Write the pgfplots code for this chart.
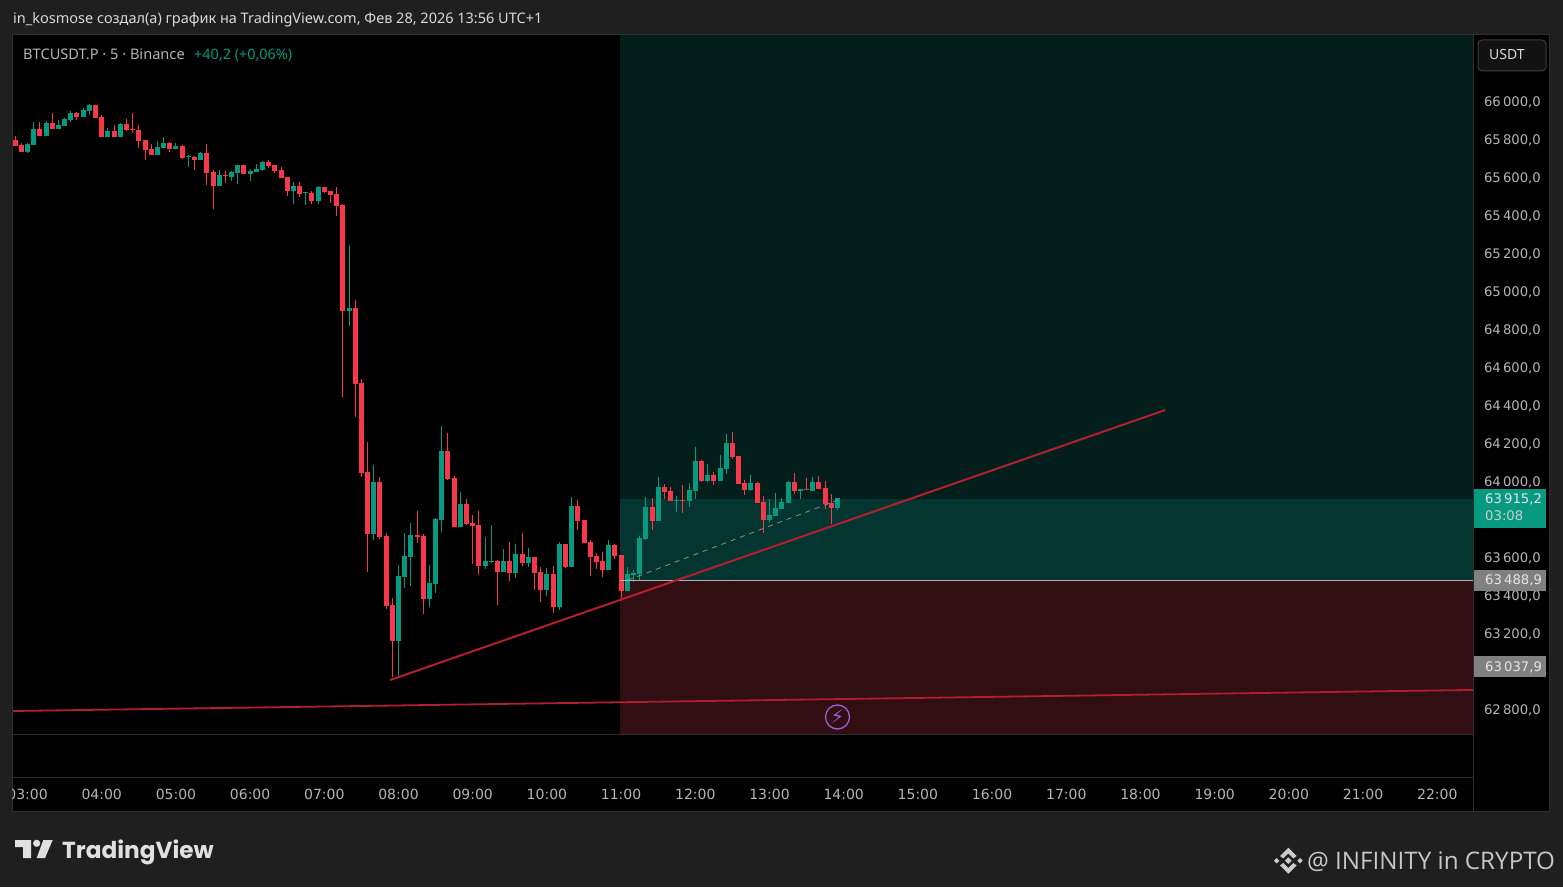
\documentclass[border=0pt]{standalone}
\usepackage{fontspec}
\setmainfont{Noto Sans}
\newfontfamily\logofont{Poppins}
\newfontfamily\markfont{Open Sans}
\newfontfamily\symfont{DejaVu Sans}
\usepackage{pgfplots}
\usepackage{pgfplotstable}
\pgfplotsset{compat=1.18}
\newcommand\fs[1]{\fontsize{#1}{#1}\selectfont}

\definecolor{bg}{HTML}{1F1F1F}
\definecolor{frame}{HTML}{2E2E2E}
\definecolor{boxline}{HTML}{3C3C3C}
\definecolor{boxfill}{HTML}{121212}
\definecolor{up}{HTML}{089981}
\definecolor{down}{HTML}{F7374A}
\definecolor{trend}{HTML}{B2202F}
\definecolor{axtext}{HTML}{B4B4B4}
\definecolor{zonetop}{HTML}{041F1B}
\definecolor{zonemid}{HTML}{053530}
\definecolor{zonered}{HTML}{310E11}
\definecolor{alert}{HTML}{9C5FD6}

% k = 5 minute candles after 03:00
\pgfplotstableread{
k o h l c
0 65734 65781 65729 65776
1 65771 65892 65771 65855
3 65818 65897 65818 65887
5 65855 65902 65855 65876
6 65871 65913 65871 65908
7 65902 65950 65892 65939
9 65918 65966 65918 65955
10 65950 65987 65929 65981
13 65813 65860 65813 65845
15 65813 65887 65813 65881
21 65718 65792 65718 65760
22 65755 65813 65755 65781
24 65750 65781 65750 65766
26 65709 65718 65655 65713
28 65692 65734 65692 65729
31 65555 65639 65555 65613
33 65602 65634 65581 65629
34 65623 65665 65565 65665
36 65618 65644 65581 65634
37 65629 65671 65629 65644
38 65639 65686 65634 65681
43 65529 65576 65460 65555
45 65518 65523 65455 65522
47 65476 65555 65460 65550
52 64897 65245 64818 64913
56 63724 64087 63692 63997
60 63161 63560 62976 63503
61 63497 63729 63439 63608
62 63603 63782 63450 63718
65 63382 63560 63339 63466
66 63461 63808 63413 63803
67 63797 64292 63734 64161
70 63761 63945 63761 63882
74 63555 63708 63540 63582
75 63576 63771 63571 63582
77 63524 63645 63524 63582
79 63518 63671 63492 63619
81 63571 63650 63550 63603
84 63429 63545 63397 63513
86 63339 63682 63324 63671
88 63550 63918 63550 63871
94 63534 63692 63534 63666
97 63424 63550 63424 63513
98 63508 63534 63471 63518
99 63513 63713 63481 63703
100 63697 63918 63692 63866
102 63792 64024 63792 63971
105 63897 63924 63840 63903
107 63897 63992 63866 63955
108 63950 64182 63908 64108
110 64003 64092 63997 64034
112 64003 64140 64003 64071
113 64066 64250 64039 64203
117 63955 64034 63950 63992
120 63797 63908 63787 63824
121 63818 63940 63818 63861
122 63855 63913 63855 63892
123 63887 64003 63887 63997
125 63950 63961 63908 63961
127 63950 64024 63950 63997
131 63861 63915 63850 63915
}\upcandles

\pgfplotstableread{
k o h l c
-2 65797 65818 65766 65766
-1 65771 65781 65734 65734
2 65855 65892 65818 65818
4 65887 65939 65855 65855
8 65939 65945 65902 65918
11 65981 65981 65913 65913
12 65918 65929 65813 65813
14 65845 65876 65813 65813
16 65881 65908 65845 65850
17 65855 65939 65834 65852
18 65850 65876 65755 65792
19 65797 65797 65692 65745
20 65750 65776 65718 65718
23 65781 65787 65734 65750
25 65766 65771 65697 65702
27 65708 65713 65639 65692
29 65729 65776 65560 65623
30 65629 65639 65434 65555
32 65615 65634 65571 65611
35 65665 65665 65618 65618
39 65681 65692 65650 65660
40 65665 65665 65623 65634
41 65639 65655 65597 65597
42 65602 65602 65502 65529
44 65555 65576 65497 65513
46 65518 65529 65460 65476
48 65550 65550 65518 65523
49 65529 65529 65465 65508
50 65513 65550 65397 65450
51 65455 65461 64445 64897
53 64913 64955 64339 64513
54 64518 64539 64024 64045
55 64050 64208 63524 63724
57 63997 64024 63697 63708
58 63713 63729 63329 63345
59 63350 63387 62971 63161
63 63718 63845 63676 63708
64 63713 63724 63303 63382
68 64161 64255 64008 64013
69 64018 64029 63761 63761
71 63882 63908 63771 63776
72 63782 63824 63566 63766
73 63771 63845 63508 63555
76 63582 63587 63350 63524
78 63582 63682 63476 63518
80 63619 63729 63555 63571
82 63603 63603 63429 63518
83 63524 63550 63366 63429
85 63513 63555 63308 63339
87 63671 63671 63545 63550
89 63871 63903 63745 63792
90 63797 63797 63676 63676
91 63682 63692 63503 63603
92 63608 63624 63540 63576
93 63582 63629 63497 63534
95 63666 63671 63592 63608
96 63613 63613 63371 63424
101 63866 63913 63745 63792
103 63971 63987 63908 63945
104 63950 63971 63897 63897
106 63903 63982 63834 63897
109 64108 64113 63997 64003
111 64034 64050 63982 64003
114 64203 64261 64118 64129
115 64134 64134 63987 63987
116 63992 64008 63929 63955
118 63992 63997 63887 63887
119 63892 63924 63729 63797
124 63997 64045 63934 63950
126 63961 64018 63955 63955
128 63997 64029 63961 63961
129 63966 64003 63855 63882
130 63887 63934 63776 63861
}\downcandles

% wick and body are error bars, so both go through the axes
\newcommand\candles[2]{%
  \addplot[draw=none,forget plot,error bars/.cd,y dir=both,y explicit,error mark=none,
    error bar style={line width=1pt,color=#1}]
    table[x=k,y=h,y error plus expr=0,y error minus expr={\thisrow{h}-\thisrow{l}}] {#2};
  \addplot[draw=none,forget plot,error bars/.cd,y dir=both,y explicit,error mark=none,
    error bar style={line width=5pt,color=#1}]
    table[x=k,y expr={max(\thisrow{o},\thisrow{c})},y error plus expr=0,
      y error minus expr={abs(\thisrow{o}-\thisrow{c})}] {#2};
}

\begin{document}
\begin{tikzpicture}[x=1pt,y=1pt]
\path[use as bounding box,fill=bg] (0,0) rectangle (1563,887);
\fill[black] (13,76) rectangle (1549,852);
\draw[frame,line width=1pt] (12.5,75.5) rectangle (1549.5,852.5);

\begin{axis}[
    at={(13pt,153pt)},anchor=south west,
    width=1460pt,height=699pt,scale only axis,
    xmin=-2.35,xmax=233.78,
    ymin=62671,ymax=66350,
    scaled y ticks=false,
    axis line style={draw=none},
    major tick length=0pt,
    xtick={0,12,...,228},
    xticklabels={03:00,04:00,05:00,06:00,07:00,08:00,09:00,10:00,11:00,12:00,13:00,14:00,15:00,16:00,17:00,18:00,19:00,20:00,21:00,22:00},
    xticklabel style={anchor=base,yshift=-65pt,font=\symfont\fs{14},text=axtext},
    ytick={62800,63000,63200,63400,63600,63800,64000,64200,64400,64600,64800,65000,65200,65400,65600,65800,66000},
    yticklabels={{62\,800,0},,{63\,200,0},{63\,400,0},{63\,600,0},,{64\,000,0},{64\,200,0},{64\,400,0},{64\,600,0},{64\,800,0},{65\,000,0},{65\,200,0},{65\,400,0},{65\,600,0},{65\,800,0},{66\,000,0}},
    yticklabel pos=right,
    yticklabel style={anchor=west,xshift=7.5pt,yshift=-1pt,font=\symfont\fs{13.2},text=axtext},
]
\addplot[fill=zonetop,draw=none,forget plot] coordinates {(95.83,63908)(233.78,63908)(233.78,66350)(95.83,66350)} -- cycle;
\addplot[fill=zonemid,draw=none,forget plot] coordinates {(95.83,63481)(233.78,63481)(233.78,63908)(95.83,63908)} -- cycle;
\addplot[fill=zonered,draw=none,forget plot] coordinates {(95.83,62671)(233.78,62671)(233.78,63481)(95.83,63481)} -- cycle;

\candles{up}{\upcandles}
\candles{down}{\downcandles}

\addplot[color=white!70!black,line width=1pt,forget plot] coordinates {(95.83,63481)(233.78,63481)};
\addplot[color=white!55!black,line width=0.8pt,dash pattern=on 5pt off 5pt,forget plot] coordinates {(97.1,63481)(131.1,63903)};
\addplot[color=trend,line width=2pt,forget plot] coordinates {(58.63,62955)(184,64376)};
\addplot[color=trend,line width=1.8pt,forget plot] coordinates {(-2.35,62792)(233.78,62903)};
\end{axis}

% panes and frame lines over the axis
\fill[bg] (0,76) rectangle (12,108);
\draw[frame,line width=1pt] (13,152.5) -- (1473,152.5);
\draw[frame,line width=1pt] (13,110) -- (1473,110);
\draw[frame,line width=1pt] (1473.5,76) -- (1473.5,852);

% alert icon
\node[draw=alert,line width=1.3pt,circle,minimum size=24pt,inner sep=0pt,text=alert,font=\symfont\fs{19}] at (837.5,170) {⚡};

% header
\node[anchor=base west,inner sep=0pt,text=white!85!black,font=\fs{14.5}] at (13,863) {in\_kosmose создал(а) график на TradingView.com, Фев 28, 2026 13:56 UTC+1};
\node[anchor=base west,inner sep=0pt,text=axtext,font=\fs{14.6}] at (23,827.5) {BTCUSDT.P · 5 · Binance};
\node[anchor=base west,inner sep=0pt,text=up,font=\fs{14.4}] at (194,827.5) {+40,2 (+0,06\%)};

% price scale boxes
\draw[boxline,fill=boxfill,line width=1pt,rounded corners=4pt] (1478,816) rectangle (1546,847);
\node[anchor=base west,inner sep=0pt,text=white!85!black,font=\fs{14}] at (1489,827) {USDT};
\fill[up] (1474,359) rectangle (1546,398);
\node[anchor=base west,inner sep=0pt,text=white!90!black,font=\symfont\fs{13.2}] at (1485,383) {63\,915,2};
\node[anchor=base west,inner sep=0pt,text=white!80!black,font=\symfont\fs{13.2}] at (1485,366) {03:08};
\fill[white!50!black] (1474,296) rectangle (1546,317);
\node[anchor=base west,inner sep=0pt,text=white!90!black,font=\symfont\fs{13.2}] at (1485,302) {63\,488,9};
\fill[white!50!black] (1474,210) rectangle (1546,231);
\node[anchor=base west,inner sep=0pt,text=white!90!black,font=\symfont\fs{13.2}] at (1485,216) {63\,037,9};

% TradingView logo
\fill[white!88!black] (15,47) -- (31,47) -- (31,29) -- (23,29) -- (23,40) -- (15,40) -- cycle;
\fill[white!88!black] (36.7,43.7) circle (3.6);
\fill[white!88!black] (43.3,47) -- (52.7,47) -- (45,29) -- (36.7,29) -- cycle;
\node[anchor=base west,inner sep=0pt,text=white!88!black,font=\logofont\bfseries\fs{23.2}] at (62,28.5) {TradingView};

% watermark
\begin{scope}[shift={(1288.3,26.3)}]
\fill[white!80!black] (-8.3,4.7) -- (0,13) -- (8.3,4.7) -- (5,2.3) -- (0,7.3) -- (-5,2.3) -- cycle;
\fill[white!80!black] (-8.3,-4.7) -- (0,-13) -- (8.3,-4.7) -- (5,-2.3) -- (0,-7.3) -- (-5,-2.3) -- cycle;
\fill[white!80!black] (-3.3,0) -- (0,3.3) -- (3.3,0) -- (0,-3.3) -- cycle;
\fill[white!80!black] (-14.4,0) -- (-11.7,2.7) -- (-9,0) -- (-11.7,-2.7) -- cycle;
\fill[white!80!black] (14.4,0) -- (11.7,2.7) -- (9,0) -- (11.7,-2.7) -- cycle;
\end{scope}
\node[anchor=base west,inner sep=0pt,text=white!78!black,font=\markfont\fs{24.2}] at (1307,18) {@ INFINITY in CRYPTO};
\end{tikzpicture}
\end{document}
